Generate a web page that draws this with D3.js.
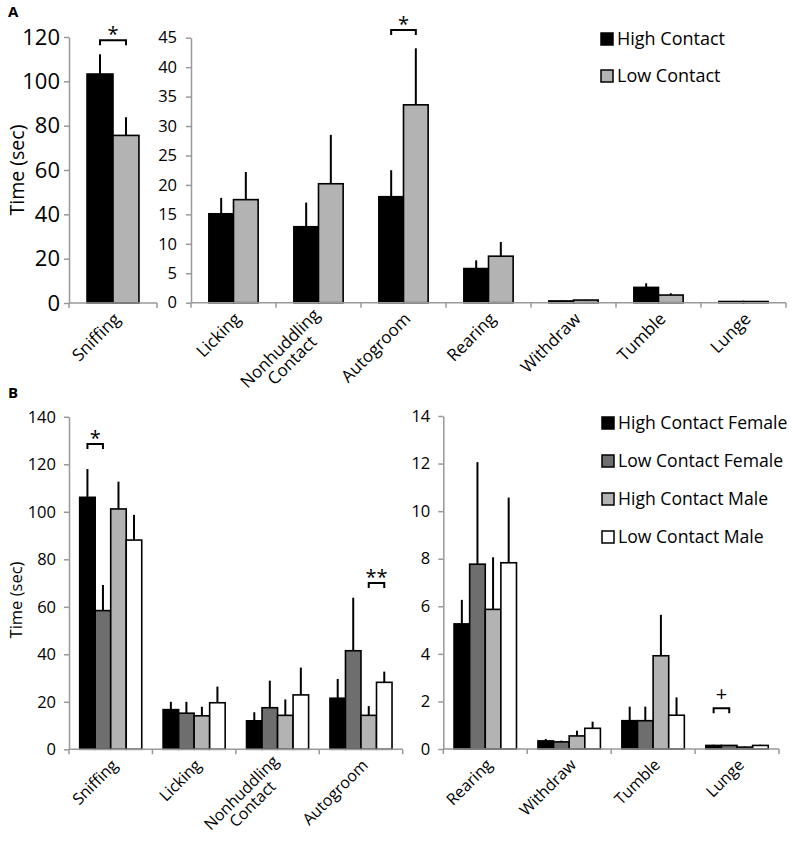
<!DOCTYPE html>
<html>
<head>
<meta charset="utf-8">
<script src="https://cdn.jsdelivr.net/npm/d3@7"></script>
<style>
  html, body { margin: 0; padding: 0; background: #fff; }
  svg { display: block; }
  text { font-family: "Open Sans", sans-serif; fill: #000; }
</style>
</head>
<body>
<svg id="chart" width="797" height="845"></svg>
<script>
// ---------- Data: Panel A ----------
const aCategories = ["Sniffing", "Licking", "Nonhuddling\nContact", "Autogroom", "Rearing", "Withdraw", "Tumble", "Lunge"];
const aSeries = ["High Contact", "Low Contact"];
const aHigh    = [103.3, 15.1, 12.9, 18.0, 5.8, 0.3, 2.6, 0.2];
const aHighSem = [8.9, 2.7, 4.1, 4.5, 1.4, 0.05, 0.7, 0.03];
const aLow     = [75.6, 17.5, 20.2, 33.6, 7.9, 0.45, 1.3, 0.2];
const aLowSem  = [8.2, 4.7, 8.3, 9.6, 2.4, 0.05, 0.3, 0.03];
const aTicksLeft  = [0, 20, 40, 60, 80, 100, 120];
const aTicksRight = [0, 5, 10, 15, 20, 25, 30, 35, 40, 45];

// ---------- Data: Panel B ----------
const bCategories = ["Sniffing", "Licking", "Nonhuddling\nContact", "Autogroom", "Rearing", "Withdraw", "Tumble", "Lunge"];
const bSeries = ["High Contact Female", "Low Contact Female", "High Contact Male", "Low Contact Male"];
const bHCF    = [106.1, 16.7, 12.0, 21.5, 5.26, 0.34, 1.19, 0.15];
const bHCFSem = [11.9, 3.3, 3.6, 8.1, 1.01, 0.08, 0.59, 0.03];
const bLCF    = [58.4, 15.2, 17.5, 41.5, 7.77, 0.30, 1.19, 0.15];
const bLCFSem = [10.8, 4.8, 11.4, 22.3, 4.29, 0.05, 0.59, 0.02];
const bHCM    = [101.2, 14.1, 14.3, 14.3, 5.87, 0.55, 3.92, 0.08];
const bHCMSem = [11.5, 3.8, 6.7, 3.9, 2.19, 0.22, 1.72, 0.02];
const bLCM    = [88.1, 19.6, 22.9, 28.2, 7.83, 0.87, 1.42, 0.15];
const bLCMSem = [10.6, 6.8, 11.5, 4.5, 2.74, 0.28, 0.75, 0.03];
const bTicksLeft  = [0, 20, 40, 60, 80, 100, 120, 140];
const bTicksRight = [0, 2, 4, 6, 8, 10, 12, 14];

// Significance markers: [category, seriesIndexA, seriesIndexB, level, symbol]
const aSig = [["Sniffing", 0, 1, 118.5, "*"], ["Autogroom", 0, 1, 46.3, "*"]];
const bSig = [["Sniffing", 0, 1, 128.5, "*"], ["Autogroom", 2, 3, 70, "**"], ["Lunge", 0, 1, 1.71, "+"]];

const aColors = ["#000000", "#b3b3b3"];
const bColors = ["#000000", "#6e6e6e", "#b3b3b3", "#ffffff"];

const svg = d3.select("#chart");
const AXIS = "#999";

function panel(cfg) {
  const g = svg.append("g");
  const x = d3.scaleBand().domain(cfg.cats).range(cfg.xr).padding(0);
  const y = d3.scaleLinear().domain(cfg.yd).range(cfg.yr);
  const bw = x.bandwidth();
  const pad = bw * cfg.padFrac;
  const x1 = d3.scaleBand().domain(d3.range(cfg.series.length)).range([pad, bw - pad]).padding(0);

  // y axis
  const ya = d3.axisLeft(y).tickValues(cfg.ticks).tickSize(5).tickSizeOuter(0).tickPadding(cfg.tickPad);
  const yg = g.append("g").attr("transform", `translate(${cfg.xr[0]},0)`).call(ya);
  yg.select(".domain").attr("stroke", AXIS).attr("stroke-width", 1.5);
  yg.selectAll(".tick line").attr("stroke", AXIS).attr("stroke-width", 1.5);
  yg.selectAll(".tick text").attr("font-size", cfg.tickFont).attr("font-family", "'Open Sans', sans-serif").attr("fill", "#000");

  // bars
  cfg.cats.forEach((c, ci) => {
    cfg.series.forEach((s, si) => {
      const v = cfg.values[si][ci];
      const e = cfg.sems[si][ci];
      const bx = x(c) + x1(si);
      g.append("rect")
        .attr("x", bx).attr("y", y(v))
        .attr("width", x1.bandwidth()).attr("height", y(0) - y(v))
        .attr("fill", cfg.colors[si]).attr("stroke", "#000").attr("stroke-width", 1.6);
      g.append("line")
        .attr("x1", bx + x1.bandwidth() / 2).attr("x2", bx + x1.bandwidth() / 2)
        .attr("y1", y(v)).attr("y2", y(v + e))
        .attr("stroke", "#000").attr("stroke-width", 2);
    });
  });

  // x axis
  const y0 = y(0);
  g.append("line").attr("x1", cfg.xr[0]).attr("x2", cfg.xr[1]).attr("y1", y0).attr("y2", y0)
    .attr("stroke", AXIS).attr("stroke-width", 1.5);
  const bounds = cfg.cats.map(c => x(c)).concat([x(cfg.cats[cfg.cats.length - 1]) + bw]);
  bounds.forEach(b => {
    g.append("line").attr("x1", b).attr("x2", b).attr("y1", y0).attr("y2", y0 + 5)
      .attr("stroke", AXIS).attr("stroke-width", 1.5);
  });

  // category labels
  cfg.cats.forEach(c => {
    const cx = x(c) + bw / 2 + 4;
    const lines = c.split("\n");
    const t = g.append("g").attr("transform", `translate(${cx},${y0 + 13}) rotate(-45)`);
    const texts = lines.map((ln, i) => t.append("text")
      .attr("text-anchor", "end").attr("font-size", cfg.catFont)
      .attr("dy", (0.35 + i * 1.0) + "em").text(ln));
    if (lines.length > 1) {
      const lens = texts.map(tt => tt.node().getComputedTextLength());
      const maxL = d3.max(lens);
      texts.forEach((tt, i) => tt.attr("x", -(maxL - lens[i]) / 2));
      t.attr("transform", `translate(${cx - 6},${y0 + 9}) rotate(-45)`);
    }
  });

  // significance
  cfg.sig.forEach(([c, s1, s2, lvl, sym]) => {
    const xa = x(c) + x1(s1) + x1.bandwidth() / 2;
    const xb = x(c) + x1(s2) + x1.bandwidth() / 2;
    const yy = y(lvl);
    g.append("path").attr("d", `M${xa},${yy + 5}V${yy}H${xb}V${yy + 5}`)
      .attr("fill", "none").attr("stroke", "#000").attr("stroke-width", 2);
    g.append("text").attr("x", (xa + xb) / 2).attr("y", sym === "+" ? yy - 7 : yy + 1)
      .attr("text-anchor", "middle").attr("font-size", 20)
      .attr("fill", "#333").text(sym);
  });
  return g;
}

// Panel A left (Sniffing)
panel({
  cats: aCategories.slice(0, 1), series: aSeries,
  values: [aHigh.slice(0, 1), aLow.slice(0, 1)], sems: [aHighSem.slice(0, 1), aLowSem.slice(0, 1)],
  xr: [69, 157], yd: [0, 120], yr: [303, 37], ticks: aTicksLeft, tickPad: 4, tickFont: 22,
  padFrac: 0.205, colors: aColors, catFont: 17,
  sig: aSig.filter(s => s[0] === "Sniffing")
});
// Panel A right
panel({
  cats: aCategories.slice(1), series: aSeries,
  values: [aHigh.slice(1), aLow.slice(1)], sems: [aHighSem.slice(1), aLowSem.slice(1)],
  xr: [191, 786], yd: [0, 45], yr: [302.7, 37.7], ticks: aTicksRight, tickPad: 9, tickFont: 16.5,
  padFrac: 0.21, colors: aColors, catFont: 17,
  sig: aSig.filter(s => s[0] !== "Sniffing")
});
// Panel B left
panel({
  cats: bCategories.slice(0, 4), series: bSeries,
  values: [bHCF, bLCF, bHCM, bLCM].map(a => a.slice(0, 4)),
  sems: [bHCFSem, bLCFSem, bHCMSem, bLCMSem].map(a => a.slice(0, 4)),
  xr: [69, 402.7], yd: [0, 140], yr: [749.3, 416.8], ticks: bTicksLeft, tickPad: 8, tickFont: 16.5,
  padFrac: 0.128, colors: bColors, catFont: 16,
  sig: bSig.filter(s => bCategories.slice(0, 4).includes(s[0]))
});
// Panel B right
panel({
  cats: bCategories.slice(4), series: bSeries,
  values: [bHCF, bLCF, bHCM, bLCM].map(a => a.slice(4)),
  sems: [bHCFSem, bLCFSem, bHCMSem, bLCMSem].map(a => a.slice(4)),
  xr: [443.3, 779], yd: [0, 14], yr: [749, 416], ticks: bTicksRight, tickPad: 8, tickFont: 16.5,
  padFrac: 0.128, colors: bColors, catFont: 16,
  sig: bSig.filter(s => bCategories.slice(4).includes(s[0]))
});

// Y axis titles
svg.append("text").attr("transform", "translate(24,170) rotate(-90)")
  .attr("text-anchor", "middle").attr("font-size", 19.5).text("Time (sec)");
svg.append("text").attr("transform", "translate(22,600) rotate(-90)")
  .attr("text-anchor", "middle").attr("font-size", 16.5).text("Time (sec)");

// Panel letters
svg.append("text").attr("x", 8).attr("y", 17).attr("font-size", 15).attr("font-weight", "bold")
  .attr("font-family", "Liberation Sans, Arial, sans-serif").text("A");
svg.append("text").attr("x", 8).attr("y", 398).attr("font-size", 15).attr("font-weight", "bold")
  .attr("font-family", "Liberation Sans, Arial, sans-serif").text("B");

// Legends
function legend(items, colors, x0, y0, step, fs) {
  items.forEach((it, i) => {
    const yy = y0 + i * step;
    svg.append("rect").attr("x", x0).attr("y", yy - 6).attr("width", 12).attr("height", 12)
      .attr("fill", colors[i]).attr("stroke", "#000").attr("stroke-width", 1.5);
    svg.append("text").attr("x", x0 + 16).attr("y", yy).attr("dy", "0.36em")
      .attr("font-size", fs).attr("font-family", "'Noto Sans', 'Open Sans', sans-serif").text(it);
  });
}
legend(aSeries, aColors, 601, 39, 37, 18);
legend(bSeries, bColors, 602, 423, 38, 17.6);
</script>
</body>
</html>
